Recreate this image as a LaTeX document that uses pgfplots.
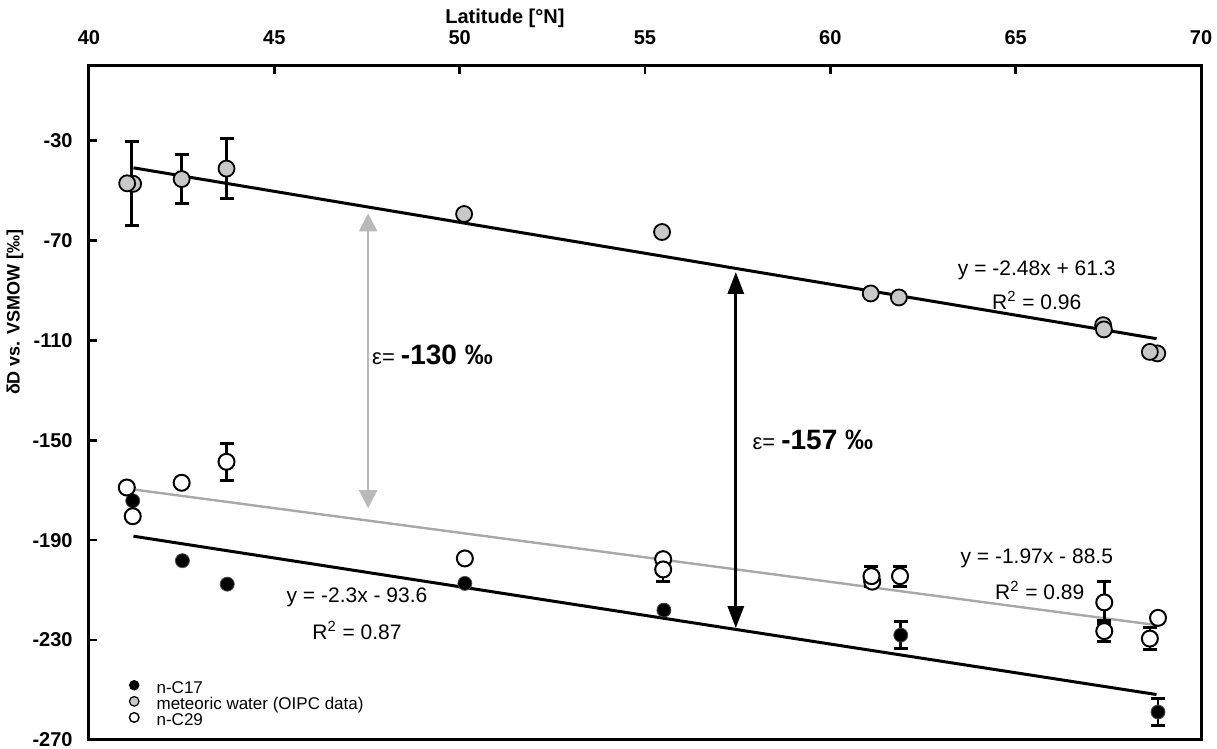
\documentclass[border=0pt]{standalone}
\usepackage{fontspec}
\setmainfont{Liberation Sans}
\usepackage{pgfplots}
\usepackage{pgfplotstable}
\pgfplotsset{compat=1.18}
\usetikzlibrary{arrows.meta}
\definecolor{metgray}{HTML}{C8C8C8}
\definecolor{fitgray}{HTML}{A8A8A8}

% meteoric water (OIPC)
\pgfplotstableread{
x y
41.19 -47.3
41.03 -47.1
50.12 -59.4
55.46 -66.6
61.09 -91.2
61.85 -92.8
67.36 -103.9
67.38 -105.6
68.82 -115.2
68.62 -114.6
}\metpts
\pgfplotstableread{
x y e
41.15 -47.2 16.8
42.50 -45.4 9.8
43.71 -41.2 12.0
}\meterr
% n-C29
\pgfplotstableread{
x y
41.02 -168.9
41.18 -180.4
42.50 -167.0
50.14 -197.3
55.49 -197.6
61.13 -206.6
68.84 -221.1
}\ctwpts
\pgfplotstableread{
x y e
43.71 -158.6 7.3
55.49 -201.7 5.0
61.11 -204.4 4.0
61.88 -204.4 4.0
67.39 -214.9 8.5
67.39 -226.4 4.3
68.62 -229.4 4.5
}\ctwerr
% n-C17
\pgfplotstableread{
x y
41.18 -174.2
42.52 -198.2
43.73 -207.6
50.14 -207.3
55.51 -218.0
}\csvpts
\pgfplotstableread{
x y e
61.90 -228.0 5.5
68.84 -258.8 5.3
}\csverr

\begin{document}
\begin{tikzpicture}
\begin{axis}[
  at={(0pt,0pt)}, anchor=south west,
  scale only axis, width=556pt, height=337.15pt,
  xmin=40, xmax=70, ymin=-270, ymax=0,
  clip=false,
  axis line style={line width=1.5pt},
  xtick={40,45,50,55,60,65,70},
  xticklabels={40,45,50,55,60,65,70},
  xtick pos=right, xticklabel pos=right,
  ytick={-270,-230,-190,-150,-110,-70,-30},
  yticklabels={-270,-230,-190,-150,-110,-70,-30},
  ytick pos=left,
  tick align=inside,
  major tick length=4pt,
  tick style={line width=1.2pt,black},
  xticklabel style={font=\bfseries\fontsize{10}{12}\selectfont, inner sep=0pt, anchor=south, yshift=10.5pt},
  yticklabel style={font=\bfseries\fontsize{10}{12}\selectfont, inner sep=0pt, anchor=east, xshift=-8pt},
  legend style={at={(axis cs:41.08,-246.0)}, anchor=north west, draw=none, fill=none,
    font=\fontsize{8.5}{9}\selectfont, inner sep=0pt, row sep=0pt,
    nodes={inner sep=0pt, text height=5.3pt, text depth=1.4pt}},
  legend cell align=left,
  legend image code/.code={\path (0pt,0pt) (13pt,0pt); \draw[#1] plot coordinates {(2pt,2.3pt)};},
]
% legend images
\addlegendimage{only marks, mark=*, mark size=2.4pt, mark options={fill=black, draw=black}}
\addlegendentry{n-C17}
\addlegendimage{only marks, mark=*, mark size=2.4pt, mark options={fill=metgray, draw=black, line width=0.6pt}}
\addlegendentry{meteoric water (OIPC data)}
\addlegendimage{only marks, mark=*, mark size=2.4pt, mark options={fill=white, draw=black, line width=0.7pt}}
\addlegendentry{n-C29}

% regression lines
\addplot[forget plot, black, line width=1.5pt] coordinates {(41.2,-40.9) (68.8,-109.3)};
\addplot[forget plot, fitgray, line width=1.2pt] coordinates {(41.0,-169.3) (68.8,-224.0)};
\addplot[forget plot, black, line width=1.5pt] coordinates {(41.2,-188.4) (68.8,-251.8)};

% arrows
\draw[gray!55, line width=1pt, {Triangle[width=9pt,length=9pt]}-{Triangle[width=9pt,length=9pt]}]
  (axis cs:47.53,-59.1) -- (axis cs:47.53,-177.2);
\draw[black, line width=1.5pt, {Triangle[width=8pt,length=11pt]}-{Triangle[width=8pt,length=11pt]}]
  (axis cs:57.45,-82.6) -- (axis cs:57.45,-225.2);

% meteoric water
\addplot[forget plot, only marks, mark=*, mark size=4pt, mark options={fill=metgray, draw=black, line width=0.9pt},
  error bars/.cd, y dir=both, y explicit,
  error bar style={line width=1.3pt, black},
  error mark options={rotate=90, mark size=3.5pt, line width=1.5pt, black}]
  table[x=x, y=y, y error=e] {\meterr};
\addplot[forget plot, only marks, mark=*, mark size=4pt, mark options={fill=metgray, draw=black, line width=0.9pt}]
  table[x=x, y=y] {\metpts};

% n-C17
\addplot[forget plot, only marks, mark=*, mark size=3.5pt, mark options={fill=black, draw=black!70},
  error bars/.cd, y dir=both, y explicit,
  error bar style={line width=1.3pt, black},
  error mark options={rotate=90, mark size=3.5pt, line width=1.5pt, black}]
  table[x=x, y=y, y error=e] {\csverr};
\addplot[forget plot, only marks, mark=*, mark size=3.5pt, mark options={fill=black, draw=black!70}]
  table[x=x, y=y] {\csvpts};

% n-C29
\addplot[forget plot, only marks, mark=*, mark size=4pt, mark options={fill=white, draw=black, line width=1pt}]
  table[x=x, y=y] {\ctwpts};
\addplot[forget plot, only marks, mark=*, mark size=4pt, mark options={fill=white, draw=black, line width=1pt},
  error bars/.cd, y dir=both, y explicit,
  error bar style={line width=1.3pt, black},
  error mark options={rotate=90, mark size=3.5pt, line width=1.5pt, black}]
  table[x=x, y=y, y error=e] {\ctwerr};

% annotations
\node[font=\fontsize{10.5}{12}\selectfont] at (axis cs:65.57,-81.8) {y = -2.48x + 61.3};
\node[font=\fontsize{10.5}{12}\selectfont] at (axis cs:65.57,-93.9) {R\textsuperscript{2} = 0.96};
\node[font=\fontsize{10.5}{12}\selectfont] at (axis cs:65.57,-197.2) {y = -1.97x - 88.5};
\node[font=\fontsize{10.5}{12}\selectfont] at (axis cs:65.65,-210.0) {R\textsuperscript{2} = 0.89};
\node[font=\fontsize{10.5}{12}\selectfont] at (axis cs:47.23,-212.8) {y = -2.3x - 93.6};
\node[font=\fontsize{10.5}{12}\selectfont] at (axis cs:47.23,-226.0) {R\textsuperscript{2} = 0.87};
\node[anchor=west, inner sep=0pt] at (axis cs:47.63,-115.9) {\fontsize{11}{13}\selectfont ε= \bfseries\fontsize{14}{16}\selectfont -130 ‰};
\node[anchor=west, inner sep=0pt] at (axis cs:57.89,-149.9) {\fontsize{11}{13}\selectfont ε= \bfseries\fontsize{14}{16}\selectfont -157 ‰};

% axis labels
\node[font=\bfseries\fontsize{10}{12}\selectfont] at (axis cs:51.22,19.1) {Latitude [°N]};
\node[font=\bfseries\fontsize{9}{11}\selectfont, rotate=90] at (axis cs:38.0,-98.7) {δD vs. VSMOW [‰]};
\end{axis}
\pgfresetboundingbox
\useasboundingbox (-44.5pt,-4.5pt) rectangle (564pt,370pt);
\end{tikzpicture}
\end{document}
